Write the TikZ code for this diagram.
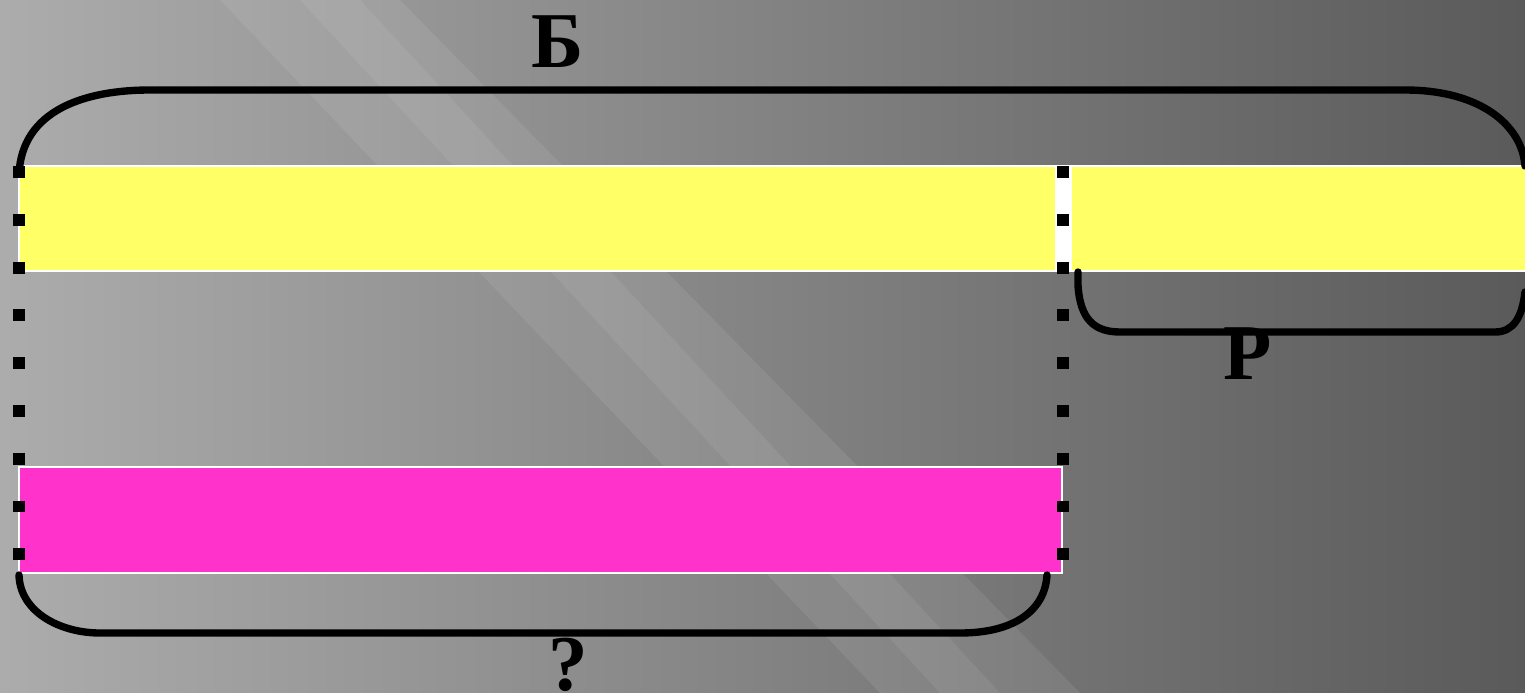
\documentclass[tikz,border=0pt]{standalone}
\usepackage{fontspec}
\setmainfont{Liberation Serif}
\usetikzlibrary{positioning}
\definecolor{bgleft}{RGB}{172,172,172}
\definecolor{bgright}{RGB}{90,90,90}
\definecolor{baryellow}{RGB}{255,255,102}
\definecolor{barpink}{RGB}{255,51,204}
\tikzset{
  bar/.style={draw=white,line width=1pt},
  brace/.style={line width=4.2pt,line cap=round},
  dotline/.style={line width=6.8pt,dash pattern=on 6.8pt off 20.4pt},
  lbl/.style={font=\bfseries\fontsize{45}{45}\selectfont,inner sep=0pt}
}
\begin{document}
\begin{tikzpicture}[x=0.02cm,y=-0.02cm]
\useasboundingbox (0,0) rectangle (1525,693);
\shade[left color=bgleft,right color=bgright] (0,0) rectangle (1525,693);
\fill[white,opacity=0.08] (220,0) -- (400,0) -- (1080,693) -- (880,693) -- cycle;
\fill[white,opacity=0.07] (300,0) -- (360,0) -- (1000,693) -- (940,693) -- cycle;
\fill[bar,fill=white] (1056,166) rectangle (1071,271);
\filldraw[bar,fill=baryellow] (19,166) rectangle (1056,271);
\filldraw[bar,fill=baryellow] (1071,166) rectangle (1530,271);
\filldraw[bar,fill=barpink] (19,467) rectangle (1062,573);
\draw[dotline] (19,166) -- (19,562);
\draw[dotline] (1063,166) -- (1063,562);
\draw[brace] (19,174) .. controls (22,110) and (85,90) .. (150,90) -- (1405,90) .. controls (1480,90) and (1522,125) .. (1525,166);
\draw[brace] (1078,272) -- (1078,285) .. controls (1080,320) and (1095,332) .. (1120,332) -- (1495,332) .. controls (1513,332) and (1522,318) .. (1525,292);
\draw[brace] (19,575) .. controls (20,612) and (60,633) .. (100,633) -- (960,633) .. controls (1015,633) and (1045,610) .. (1047,575);
\node[lbl] (b) at (558,42) {Б};
\node[lbl] (r) at (1248,354) {Р};
\node[lbl] (q) at (568,665) {?};
\end{tikzpicture}
\end{document}
